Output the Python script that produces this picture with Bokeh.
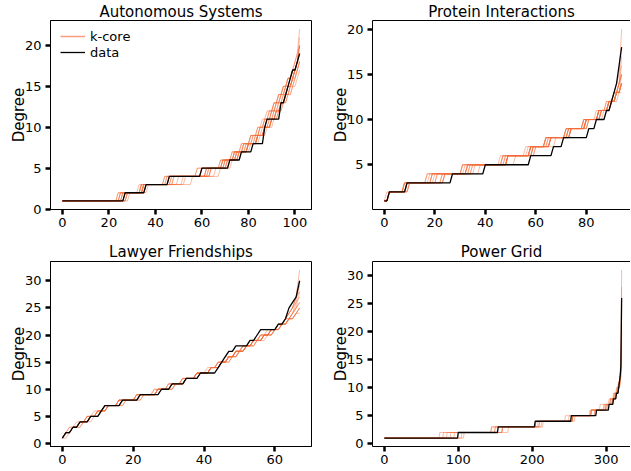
import numpy as np
from bokeh.plotting import figure
from bokeh.layouts import gridplot
from bokeh.models import FixedTicker, Legend, LegendItem, LinearAxis, Range1d
from bokeh.embed import file_html
from bokeh.resources import INLINE

# ---------------------------------------------------------------------------
# Data: number of nodes having degree 1, 2, 3, ... (sorted degree sequences)
# ---------------------------------------------------------------------------
titles = ["Autonomous Systems", "Protein Interactions", "Lawyer Friendships", "Power Grid"]

as_data = [27, 9, 10, 14, 12, 5, 5, 5, 0, 1, 6, 0, 2, 1, 1, 1, 2, 1, 1]
as_kcore = [
    [25, 9, 10, 16, 9, 5, 4, 4, 3, 2, 2, 2, 2, 2, 2, 2, 2, 1, 1],
    [28, 8, 12, 12, 9, 5, 5, 4, 3, 2, 2, 2, 2, 2, 1, 2, 1, 1, 1, 0, 0, 1],
    [26, 8, 14, 10, 10, 5, 4, 4, 3, 3, 2, 2, 2, 2, 2, 2, 1, 1, 1, 1],
    [27, 10, 16, 9, 6, 5, 4, 4, 3, 2, 2, 3, 2, 2, 2, 2, 2, 2],
    [24, 10, 11, 17, 8, 5, 5, 4, 3, 3, 2, 2, 2, 2, 2, 1, 1, 1],
    [29, 7, 20, 8, 5, 5, 4, 4, 3, 2, 3, 2, 2, 2, 2, 2, 1, 1, 1],
    [26, 9, 12, 19, 6, 4, 4, 4, 3, 3, 2, 2, 2, 2, 1, 1, 1, 1, 0, 1],
    [27, 7, 11, 13, 11, 5, 4, 3, 4, 3, 2, 2, 2, 2, 2, 1, 2, 1, 1],
    [25, 10, 15, 14, 7, 4, 5, 4, 3, 3, 2, 2, 2, 1, 2, 1, 1, 1, 0, 1],
    [28, 8, 10, 22, 5, 4, 4, 4, 3, 3, 2, 2, 2, 2, 2, 1, 1],
    [26, 9, 11, 14, 11, 5, 4, 4, 3, 3, 2, 2, 2, 2, 1, 1, 1, 1, 1],
    [24, 9, 13, 16, 8, 5, 5, 4, 3, 2, 2, 2, 2, 2, 2, 1, 1, 1, 0, 1],
    [27, 8, 17, 11, 7, 5, 4, 4, 4, 2, 2, 2, 2, 2, 2, 2, 1, 1],
    [28, 7, 12, 17, 7, 5, 4, 4, 3, 3, 2, 2, 2, 1, 2, 1, 1, 1, 0, 0, 1],
    [25, 10, 9, 19, 9, 4, 4, 4, 3, 3, 3, 2, 2, 2, 1, 1, 1, 1],
]

pr_data = [2, 7, 18, 13, 18, 9, 4, 10, 3, 4, 2, 1, 1, 1, 0, 1, 0, 1]
pr_kcore = [
    [2, 6, 9, 14, 16, 10, 7, 8, 7, 6, 4, 3, 2, 1],
    [2, 7, 12, 12, 14, 11, 6, 9, 6, 5, 4, 3, 2, 1, 1],
    [2, 8, 14, 10, 15, 9, 8, 7, 6, 6, 4, 2, 3, 1],
    [1, 7, 10, 15, 13, 12, 6, 8, 8, 5, 4, 2, 1, 1, 1, 0, 0, 0, 0, 1],
    [2, 6, 16, 11, 17, 8, 6, 8, 6, 5, 4, 3, 2, 1],
    [2, 7, 8, 16, 15, 11, 7, 7, 7, 6, 4, 2, 3],
    [2, 8, 13, 13, 12, 10, 7, 9, 6, 5, 4, 3, 1, 1, 0, 1],
    [2, 6, 11, 12, 18, 9, 6, 8, 8, 5, 3, 3, 2, 1, 1],
    [2, 7, 15, 14, 11, 11, 8, 6, 7, 6, 3, 2, 1, 1, 0, 0, 1],
    [2, 7, 10, 12, 16, 9, 8, 8, 7, 6, 4, 3, 2, 1],
    [2, 7, 11, 15, 14, 10, 7, 8, 7, 5, 4, 2, 2, 1],
    [2, 6, 13, 12, 16, 10, 7, 7, 7, 6, 4, 2, 1, 1, 1],
    [2, 8, 9, 13, 17, 9, 8, 8, 6, 6, 4, 3, 1, 0, 1],
    [2, 7, 14, 11, 15, 10, 6, 9, 7, 5, 3, 3, 2, 1],
]

lw_data = [1, 2, 2, 3, 3, 1, 5, 5, 6, 3, 4, 4, 5, 1, 1, 1, 2, 4, 2, 1, 5, 2, 1, 0, 1, 1, 1, 0, 0, 1]
lw_kcore = [
    [1, 2, 2, 2, 3, 2, 4, 6, 5, 4, 4, 3, 4, 3, 2, 2, 2, 3, 3, 2, 2, 2, 2, 1, 1, 1],
    [1, 1, 3, 3, 2, 3, 3, 5, 5, 5, 3, 4, 4, 2, 3, 2, 2, 3, 2, 2, 3, 2, 1, 1, 1, 0, 1, 0, 1],
    [2, 1, 2, 3, 3, 2, 5, 4, 6, 4, 3, 4, 3, 3, 2, 2, 3, 2, 3, 3, 2, 2, 2, 1, 1],
    [1, 2, 2, 3, 3, 1, 4, 5, 6, 3, 5, 3, 4, 2, 2, 3, 2, 2, 3, 3, 2, 2, 1, 1, 1, 0, 1, 0, 0, 0, 0, 1],
    [1, 2, 2, 2, 2, 3, 4, 5, 5, 4, 4, 4, 4, 3, 2, 2, 3, 3, 2, 3, 2, 2, 1, 1, 0, 1, 1],
    [1, 2, 3, 3, 2, 2, 5, 5, 4, 5, 3, 4, 3, 3, 3, 2, 2, 3, 3, 2, 2, 2, 2, 2],
    [1, 2, 2, 3, 2, 2, 4, 6, 5, 3, 4, 4, 3, 3, 3, 2, 3, 2, 2, 3, 2, 2, 2, 1, 1, 0, 0, 1],
    [1, 1, 2, 3, 3, 3, 3, 5, 6, 4, 4, 3, 4, 2, 3, 3, 2, 2, 2, 3, 3, 2, 1, 1, 1, 1],
    [1, 2, 2, 2, 3, 2, 5, 5, 5, 4, 3, 4, 4, 3, 2, 2, 2, 3, 3, 2, 2, 2, 1, 1, 1, 1, 0, 0, 0, 1],
    [1, 2, 2, 3, 3, 2, 4, 5, 5, 4, 4, 4, 3, 3, 2, 3, 2, 2, 3, 2, 2, 3, 2, 1, 1],
    [1, 2, 2, 3, 2, 2, 4, 5, 6, 4, 4, 3, 4, 3, 2, 2, 3, 2, 3, 2, 2, 2, 1, 1, 1, 0, 1, 1],
    [1, 2, 3, 2, 3, 2, 4, 6, 4, 5, 3, 4, 3, 3, 3, 2, 2, 3, 2, 3, 2, 2, 2, 1, 1],
]

pg_data = [100, 54, 50, 49, 34, 17, 6, 4, 3, 1, 1, 1, 0, 1, 0, 0, 0, 0, 0, 0, 0, 0, 0, 0, 0, 1]
pg_kcore = [
    [80, 70, 55, 45, 30, 18, 8, 5, 4, 2, 2, 1, 0, 1, 0, 0, 0, 1],
    [95, 65, 55, 40, 25, 20, 8, 5, 3, 2, 1, 1, 1, 0, 0, 0, 0, 0, 0, 0, 0, 0, 0, 0, 0, 0, 0, 0, 0, 0, 1],
    [105, 55, 45, 50, 30, 15, 9, 5, 3, 2, 1, 1, 0, 0, 1],
    [75, 70, 60, 40, 35, 12, 12, 6, 4, 3, 2, 1, 0, 1, 0, 0, 0, 0, 0, 1],
    [108, 60, 45, 42, 30, 17, 7, 5, 3, 2, 1, 1, 0, 0, 0, 0, 1],
    [90, 55, 65, 45, 25, 22, 8, 4, 3, 2, 1, 0, 1, 0, 0, 0, 0, 0, 0, 0, 0, 1],
    [85, 75, 48, 50, 20, 19, 9, 5, 4, 2, 2, 1, 1, 0, 0, 0, 0, 0, 0, 0, 0, 0, 0, 0, 0, 0, 0, 1],
    [100, 50, 60, 45, 25, 20, 6, 6, 4, 2, 1, 1, 1, 0, 0, 0, 0, 0, 0, 1],
]

as_xticks = [0, 20, 40, 60, 80, 100]
as_yticks = [0, 5, 10, 15, 20]
pr_xticks = [0, 20, 40, 60, 80]
pr_yticks = [5, 10, 15, 20]
lw_xticks = [0, 20, 40, 60]
lw_yticks = [0, 5, 10, 15, 20, 25, 30]
pg_xticks = [0, 100, 200, 300]
pg_yticks = [0, 5, 10, 15, 20, 25, 30]

# ---------------------------------------------------------------------------
FONT = "DejaVu Sans"
KCORE_COLOR = "#f46d3a"
LEGEND_KCORE = "#fa9c7c"
REF_FRAME_W = 261


def degree_sequence(counts):
    c = np.asarray(counts)
    return np.repeat(np.arange(1, len(c) + 1), c)


def make_panel(title, data_counts, kcore_list, xticks, yticks, width, height,
               border_l, border_r, border_t, border_b, right_col, title_standoff, legend=False):
    data_seq = degree_sequence(data_counts)
    k_seqs = [degree_sequence(c) for c in kcore_list]
    n_max = max([len(data_seq)] + [len(s) for s in k_seqs]) - 1
    y_vals = np.concatenate([data_seq] + k_seqs)
    ymin, ymax = y_vals.min(), y_vals.max()
    x0 = -0.05 * n_max
    x_span = 1.1 * n_max
    px_per_unit = REF_FRAME_W / x_span
    frame_w = width - border_l - border_r
    frame_h = height - border_t - border_b
    x1 = x0 + frame_w / px_per_unit
    y0 = ymin - 0.05 * (ymax - ymin)
    y1 = ymax + 0.05 * (ymax - ymin)

    p = figure(width=width, height=height, x_range=Range1d(x0, x1), y_range=Range1d(y0, y1),
               output_backend="svg", toolbar_location=None, tools="",
               min_border_left=border_l, min_border_right=border_r,
               min_border_top=border_t, min_border_bottom=border_b)
    p.background_fill_color = "white"
    p.border_fill_color = "white"
    p.xgrid.grid_line_color = None
    p.ygrid.grid_line_color = None

    p.title.text = title
    p.title.align = "center"
    p.title.text_font = FONT
    p.title.text_font_size = "15px"
    p.title.text_font_style = "normal"
    p.title.text_color = "black"
    p.title.standoff = title_standoff
    # centre the title over the reference-sized frame
    p.title.offset = ((x0 + x_span / 2.0) - (x0 + x1) / 2.0) * px_per_unit

    xs = [np.arange(len(s)) for s in k_seqs]
    p.multi_line(xs=xs, ys=[s for s in k_seqs], line_color=KCORE_COLOR, line_alpha=0.45, line_width=1)
    p.line(np.arange(len(data_seq)), data_seq, line_color="black", line_width=1.3)

    p.xaxis.ticker = FixedTicker(ticks=xticks)
    p.yaxis.ticker = FixedTicker(ticks=yticks)
    p.yaxis.axis_label = "Degree"
    for ax in p.axis:
        ax.major_tick_in = 0
        ax.major_tick_out = 5
        ax.major_tick_line_width = 2.5
        ax.major_tick_line_color = "black"
        ax.minor_tick_line_color = None
        ax.axis_line_color = "black"
        ax.axis_line_width = 1
        ax.major_label_text_font = FONT
        ax.major_label_text_font_size = "13px"
        ax.major_label_text_color = "black"
        ax.major_label_standoff = 3
        ax.axis_label_text_font = FONT
        ax.axis_label_text_font_size = "15px"
        ax.axis_label_text_font_style = "normal"
        ax.axis_label_text_color = "black"
    p.yaxis.major_label_standoff = 4
    p.yaxis.axis_label_standoff = -6

    if right_col:
        p.outline_line_color = None
        top = LinearAxis(ticker=FixedTicker(ticks=[]), major_label_text_font_size="0px",
                         major_tick_out=0, major_tick_in=0, minor_tick_out=0, minor_tick_in=0,
                         major_label_standoff=0, axis_label_standoff=0,
                         axis_line_color="black", axis_line_width=1)
        p.add_layout(top, "above")
    else:
        p.outline_line_color = "black"
        p.outline_line_width = 1
        p.outline_line_alpha = 1

    if legend:
        r_k = p.line(x=np.array([np.nan]), y=np.array([np.nan]), line_color=LEGEND_KCORE, line_width=1.5)
        r_d = p.line(x=np.array([np.nan]), y=np.array([np.nan]), line_color="black", line_width=1.3)
        item_h = 16
        lg = Legend(items=[LegendItem(label="k-core", renderers=[r_k]),
                           LegendItem(label="data", renderers=[r_d])],
                    location=(10, frame_h - 8 - 2 * item_h),
                    border_line_color=None, background_fill_alpha=0,
                    label_text_font=FONT, label_text_font_size="13px", label_text_color="black",
                    glyph_width=25, glyph_height=item_h, label_height=item_h, spacing=0,
                    padding=0, margin=0, label_standoff=5)
        p.add_layout(lg)
    return p


# the page is laid out from its top-left corner: 631 x 471 px available
p1 = make_panel(titles[0], as_data, as_kcore, as_xticks, as_yticks, 320, 233, 50, 9, 20, 24, False, 0, legend=True)
p2 = make_panel(titles[1], pr_data, pr_kcore, pr_xticks, pr_yticks, 310, 233, 52, 0, 20, 24, True, 0)
p3 = make_panel(titles[2], lw_data, lw_kcore, lw_xticks, lw_yticks, 320, 237, 50, 9, 28, 24, False, 2)
p4 = make_panel(titles[3], pg_data, pg_kcore, pg_xticks, pg_yticks, 310, 237, 52, 0, 28, 24, True, 2)

grid = gridplot([[p1, p2], [p3, p4]], toolbar_location=None)

open("out.html", "w").write(file_html(grid, INLINE))
